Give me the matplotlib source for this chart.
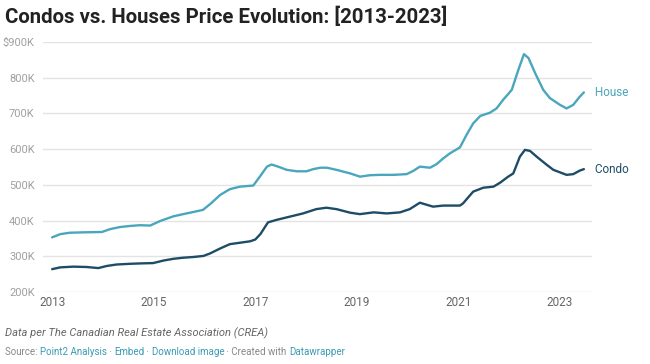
import matplotlib.pyplot as plt
from matplotlib.ticker import FuncFormatter

plt.rcParams['font.family'] = ['Roboto', 'DejaVu Sans']

# values, in thousands of CAD
house_t = [2013.00, 2013.16, 2013.35, 2013.60, 2013.98, 2014.14, 2014.34, 2014.54, 2014.73, 2014.93,
           2015.13, 2015.39, 2015.58, 2015.78, 2015.97, 2016.11, 2016.31, 2016.50, 2016.70, 2016.96,
           2017.09, 2017.23, 2017.32, 2017.45, 2017.62, 2017.82, 2018.01, 2018.14, 2018.28, 2018.41,
           2018.60, 2018.87, 2019.06, 2019.26, 2019.46, 2019.72, 2019.98, 2020.11, 2020.24, 2020.44,
           2020.57, 2020.70, 2020.83, 2021.03, 2021.16, 2021.29, 2021.43, 2021.62, 2021.75, 2021.88,
           2022.05, 2022.18, 2022.29, 2022.38, 2022.51, 2022.67, 2022.80, 2023.00, 2023.13, 2023.26,
           2023.39, 2023.47]
house_v = [353, 362, 366, 367, 368, 376, 382, 385, 387, 386,
           399, 412, 418, 424, 430, 446, 472, 488, 495, 498,
           523, 551, 557, 551, 542, 538, 538, 544, 548, 548,
           542, 532, 523, 527, 528, 528, 530, 539, 551, 548,
           558, 574, 588, 605, 640, 672, 693, 702, 714, 738,
           766, 822, 866, 855, 813, 766, 743, 724, 714, 724,
           747, 759]

condo_t = [2013.00, 2013.16, 2013.42, 2013.68, 2013.91, 2014.08, 2014.27, 2014.54, 2014.73, 2014.99,
           2015.19, 2015.39, 2015.58, 2015.78, 2015.98, 2016.11, 2016.31, 2016.50, 2016.70, 2016.90,
           2017.00, 2017.10, 2017.25, 2017.42, 2017.68, 2017.94, 2018.20, 2018.40, 2018.60, 2018.87,
           2019.06, 2019.33, 2019.59, 2019.85, 2020.04, 2020.24, 2020.50, 2020.70, 2020.83, 2021.03,
           2021.09, 2021.29, 2021.49, 2021.69, 2021.82, 2021.98, 2022.08, 2022.21, 2022.31, 2022.41,
           2022.54, 2022.74, 2022.87, 2023.00, 2023.13, 2023.26, 2023.39, 2023.47]
condo_v = [264, 269, 271, 270, 267, 273, 277, 279, 280, 281,
           288, 293, 296, 298, 301, 308, 322, 334, 338, 342,
           347, 362, 395, 402, 411, 420, 432, 436, 432, 422,
           418, 423, 420, 423, 432, 450, 439, 442, 442, 442,
           448, 481, 492, 495, 506, 523, 532, 579, 598, 595,
           579, 556, 542, 535, 528, 530, 540, 544]

year_ticks = [2013, 2015, 2017, 2019, 2021, 2023]
price_ticks = [200, 300, 400, 500, 600, 700, 800, 900]

house_col = '#4aa6bd'
condo_col = '#1d4d66'

W, H = 650, 364
fig = plt.figure(figsize=(6.5, 3.64), dpi=100)
ax = fig.add_axes([43 / W, 1 - 292 / H, (592 - 43) / W, 250 / H])

ax.plot(house_t, house_v, color=house_col, lw=1.7, solid_capstyle='round', solid_joinstyle='round')
ax.plot(condo_t, condo_v, color=condo_col, lw=1.7, solid_capstyle='round', solid_joinstyle='round')

ax.set_xlim(2012.82, 2023.63)
ax.set_ylim(200, 900)
ax.set_xticks(year_ticks)
ax.set_yticks(price_ticks)
ax.yaxis.set_major_formatter(FuncFormatter(lambda v, p: ('$%dK' if v == 900 else '%dK') % v))
ax.grid(axis='y', color='#e3e3e3', lw=1)
ax.set_axisbelow(True)
for s in ax.spines.values():
    s.set_visible(False)
ax.tick_params(axis='y', length=0, pad=6, labelsize=8, labelcolor='#a0a0a0')
ax.tick_params(axis='x', length=0, pad=3, labelsize=8.5, labelcolor='#666666')

ax.text(2023.63, house_v[-1], ' House', transform=ax.transData, color=house_col,
        fontsize=8.5, va='center', ha='left', clip_on=False)
ax.text(2023.63, condo_v[-1], ' Condo', transform=ax.transData, color=condo_col,
        fontsize=8.5, va='center', ha='left', clip_on=False)

fig.text(5 / W, 1 - 17 / H, 'Condos vs. Houses Price Evolution: [2013-2023]',
         fontsize=14.7, fontweight='bold', color='#222222', va='center', ha='left')

fig.text(5 / W, 1 - 333 / H, 'Data per The Canadian Real Estate Association (CREA)',
         fontsize=8, style='italic', color='#666666', va='center', ha='left')

# source line built from pieces of different colours
pieces = [('Source: ', '#888888'), ('Point2 Analysis', '#3a9bb3'), (' · ', '#888888'),
          ('Embed', '#3a9bb3'), (' · ', '#888888'), ('Download image', '#3a9bb3'),
          (' · Created with ', '#888888'), ('Datawrapper', '#3a9bb3')]
renderer = fig.canvas.get_renderer()
x = 5
for txt, col in pieces:
    t = fig.text(x / W, 1 - 352 / H, txt, fontsize=7, color=col, va='center', ha='left')
    x += t.get_window_extent(renderer).width

fig.savefig('out.png', dpi=100, facecolor='white')
